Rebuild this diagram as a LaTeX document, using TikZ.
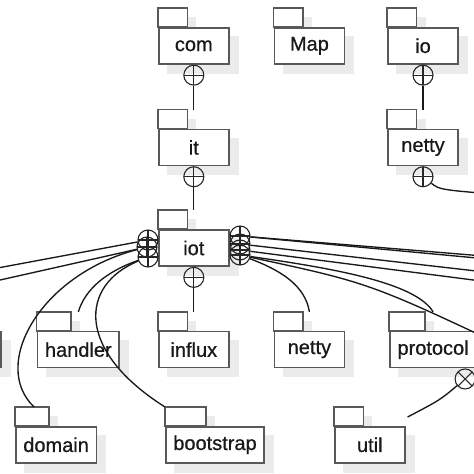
\documentclass[tikz,border=0pt]{standalone}
\usepackage{fontspec}
\setmainfont[FakeBold=0.7]{Liberation Sans}
\usetikzlibrary{positioning, calc, backgrounds}
\tikzstyle{pkg} = [rectangle, draw=black!65, line width=1.6pt, fill=white, minimum width=70pt, minimum height=36pt, inner xsep=7.5pt, font=\fontsize{20}{22}\selectfont, text=black!90]
\tikzstyle{tab} = [draw=black!65, line width=1.6pt, fill=white]
\tikzstyle{pkgshadow} = [fill=black!8]
\tikzstyle{nest} = [circle, draw=black!85, line width=1.1pt, minimum size=20pt, inner sep=0pt, path picture={\draw[line width=1.1pt] (path picture bounding box.north) -- (path picture bounding box.south) (path picture bounding box.west) -- (path picture bounding box.east);}]
\tikzstyle{nestx} = [circle, draw=black!85, line width=1.1pt, minimum size=20pt, inner sep=0pt, path picture={\draw[line width=1.1pt] (path picture bounding box.north west) -- (path picture bounding box.south east) (path picture bounding box.north east) -- (path picture bounding box.south west);}]
\tikzstyle{link} = [line width=1.35pt, black!90]

\begin{document}
\begin{tikzpicture}[x=1pt, y=-1pt, node distance=64pt]
        \clip (0,0) rectangle (474,474);
        % packages
        \node (com) [pkg, anchor=north west] at (158,27) {com};
        \node (map) [pkg, right=44pt of com] {Map};
        \node (io) [pkg, right=42pt of map] {io};
        \node (it) [pkg, below=of com] {it};
        \node (nettyA) [pkg, below=of io] {netty};
        \node (iot) [pkg, below=63pt of it] {iot};
        \node (influx) [pkg, below=of iot] {influx};
        \node (handler) [pkg, left=38pt of influx] {handler};
        \node (cut) [pkg, left=35pt of handler] {};
        \node (nettyB) [pkg, right=44pt of influx] {netty};
        \node (protocol) [pkg, right=44pt of nettyB] {protocol};
        \node (domain) [pkg, anchor=north west] at (15,426) {domain};
        \node (bootstrap) [pkg, anchor=north west] at (165,426) {bootstrap};
        \node (util) [pkg, anchor=north west] at (334,426) {util};
        % tabs and shadows
        \foreach \pk in {com,map,io,it,nettyA,iot,influx,handler,cut,nettyB,protocol,domain,bootstrap,util} {
            \begin{scope}[on background layer]
                \fill [pkgshadow] ($(\pk.south west)+(9,9)$) rectangle ($(\pk.north east)+(9,9)$);
                \fill [pkgshadow] let \p1=($(\pk.north east)-(\pk.north west)$) in ($(\pk.north west)+(9,9)$) rectangle ++(0.41*\x1,19pt);
            \end{scope}
            \draw [tab] let \p1=($(\pk.north east)-(\pk.north west)$) in (\pk.north west) rectangle ++(0.41*\x1,19pt);
        }
        % nesting circles
        \node (comC) [nest, below=0pt of com] {};
        \node (itC) [nest, below=0pt of it] {};
        \node (ioC) [nest, below=0pt of io] {};
        \node (nettyAC) [nest, below=0pt of nettyA] {};
        \node (iotC) [nest, below=0pt of iot] {};
        \node (protocolC) [nestx, below=0pt of protocol, xshift=32pt] {};
        \node (iotL1) [nest] at (148,240) {};
        \node (iotL2) [nest] at (147,247) {};
        \node (iotL3) [nest] at (148,257) {};
        \node (iotR1) [nest] at (240,236) {};
        \node (iotR2) [nest] at (240,244) {};
        \node (iotR3) [nest] at (240,250) {};
        \node (iotR4) [nest] at (240,255) {};
        % free ends outside the frame
        \coordinate (offL1) at (-40,275);
        \coordinate (offL2) at (-40,289);
        \coordinate (offR1) at (520,259);
        \coordinate (offR2) at (520,262);
        \coordinate (offR3) at (520,276);
        \coordinate (offR4) at (520,286);
        \coordinate (offR5) at (520,354);
        \coordinate (offN) at (520,196);
        % connectors
        \draw [link] (comC) -- ([yshift=19pt]it.north);
        \draw [link] (itC) -- ([yshift=19pt]iot.north);
        \draw [link] (ioC) -- ([yshift=19pt]nettyA.north);
        \draw [link] (iotC) -- ([yshift=19pt]influx.north);
        \draw [link] (nettyAC) .. controls (440,190) .. (offN);
        \draw [link] (iotL1) -- (offL1);
        \draw [link] (iotL2) -- (offL2);
        \draw [link] (iotL2) .. controls (40,275) and (-10,365) .. ([xshift=-22pt,yshift=19pt]domain.north);
        \draw [link] (iotL3) .. controls (105,272) and (85,290) .. ([yshift=19pt]handler.north);
        \draw [link] (iotL3) .. controls (80,285) and (75,350) .. ([yshift=19pt]bootstrap.north west);
        \draw [link] (iotR1) -- (offR1);
        \draw [link] (iotR1) -- (offR2);
        \draw [link] (iotR2) -- (offR3);
        \draw [link] (iotR3) -- (offR4);
        \draw [link] (iotR4) .. controls (330,268) and (415,282) .. ([yshift=19pt]protocol.north);
        \draw [link] (iotR4) .. controls (370,283) .. (offR5);
        \draw [link] (iotR4) .. controls (280,270) and (305,285) .. ([yshift=19pt]nettyB.north);
        \draw [link] (protocolC) .. controls (440,400) .. ([xshift=2pt,yshift=9pt]util.north east);
    \end{tikzpicture}
\end{document}
